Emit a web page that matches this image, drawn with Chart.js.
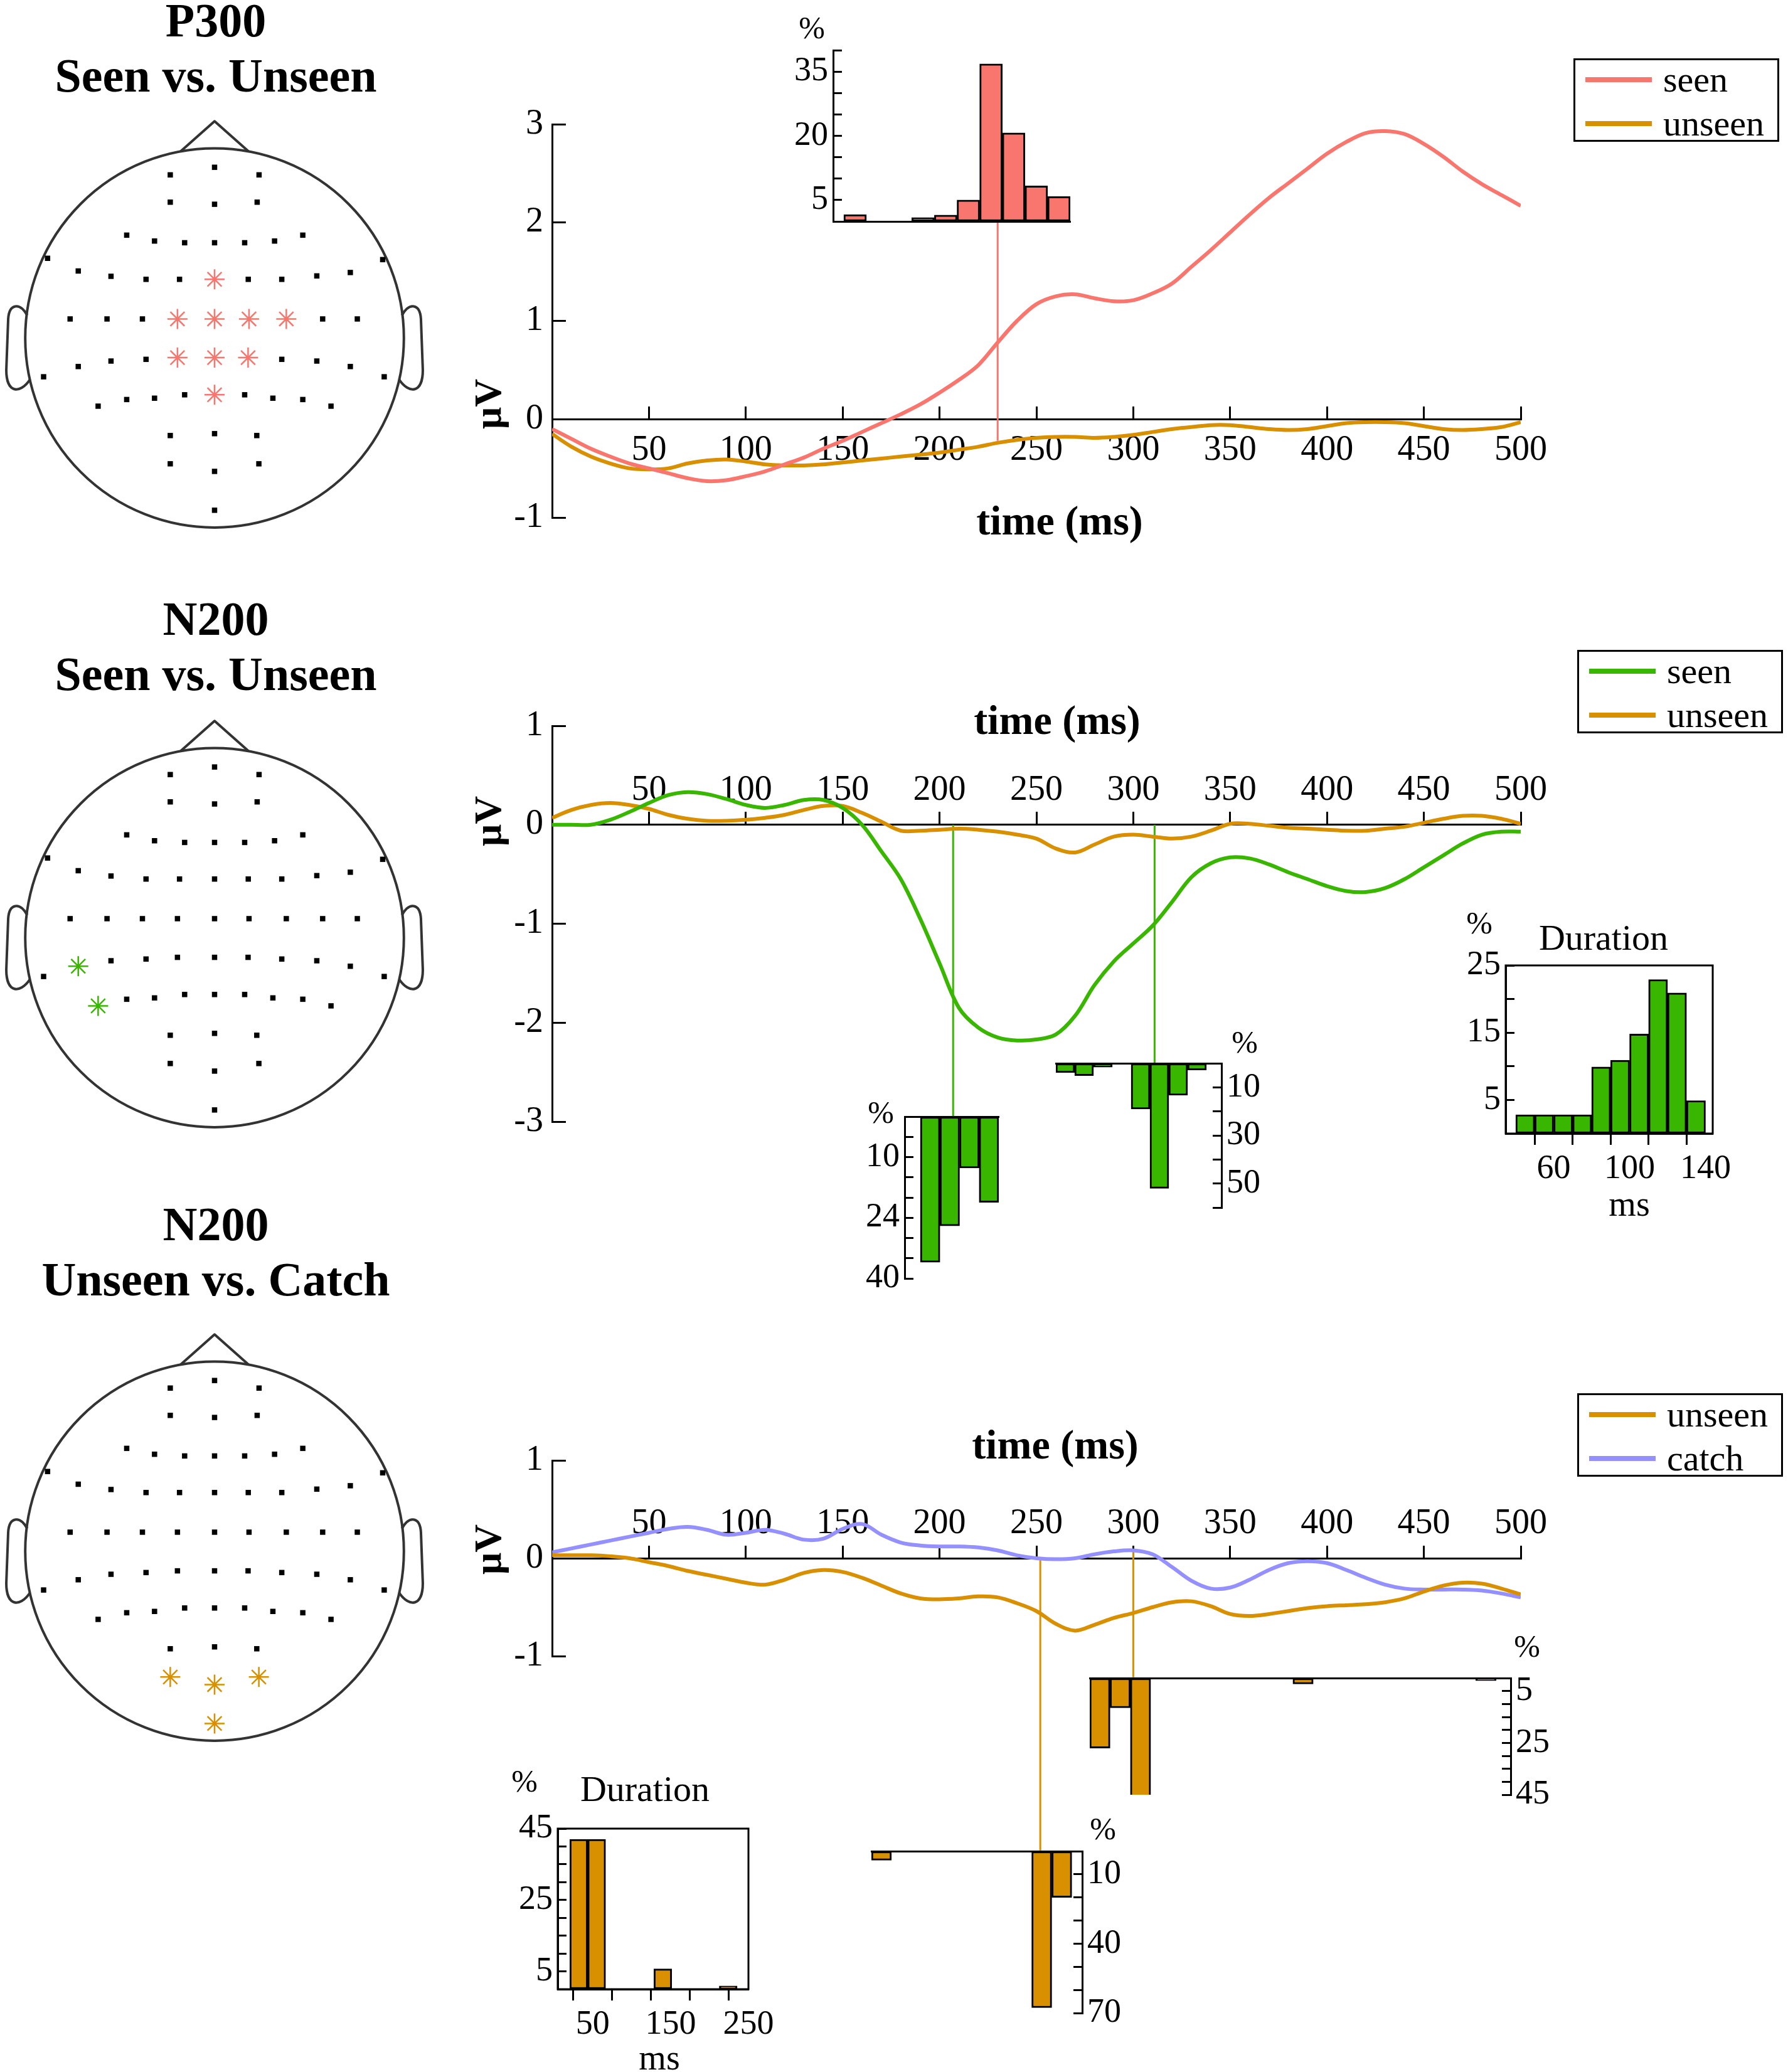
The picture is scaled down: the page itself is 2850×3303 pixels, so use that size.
<!DOCTYPE html>
<html>
<head>
<meta charset="utf-8">
<script src="https://cdn.jsdelivr.net/npm/chart.js@4.4.1/dist/chart.umd.min.js"></script>
<style>
html, body { margin: 0; padding: 0; background: #fff; }
#fig { position: relative; width: 2850px; height: 3303px; overflow: hidden; font-family: "Liberation Serif", serif; color: #000; }
.c { position: absolute; }
.t { position: absolute; transform: translate(-50%, -50%); white-space: nowrap; line-height: 1; }
.legend { position: absolute; border: 3px solid #000; box-sizing: border-box; background: #fff; }
.legend .ln { position: absolute; height: 8px; }
.legend .lt { position: absolute; transform: translateY(-50%); font-size: 58px; line-height: 1; white-space: nowrap; }
</style>
</head>
<body>
<div id="fig"></div>
<script>
// time axis of the ERP curves (ms)
const timeMs = [0,10,20,30,40,50,60,70,80,90,100,110,120,130,140,150,160,170,180,190,200,
  210,220,230,240,250,260,270,280,290,300,310,320,330,340,350,360,370,380,390,400,
  410,420,430,440,450,460,470,480,490,500];
const timeTickLabels = [50,100,150,200,250,300,350,400,450,500];

// P300 seen vs unseen (µV)
const p300Seen = [-0.1,-0.2,-0.3,-0.38,-0.45,-0.5,-0.55,-0.6,-0.63,-0.62,-0.58,-0.53,-0.46,-0.39,-0.3,-0.22,
  -0.13,-0.04,0.05,0.15,0.27,0.4,0.55,0.78,1.0,1.17,1.25,1.27,1.23,1.2,1.21,1.28,1.38,1.55,1.72,1.9,
  2.08,2.25,2.4,2.55,2.7,2.82,2.91,2.93,2.9,2.8,2.67,2.52,2.39,2.28,2.17];
const p300Unseen = [-0.15,-0.28,-0.38,-0.45,-0.5,-0.51,-0.5,-0.45,-0.42,-0.41,-0.43,-0.46,-0.47,-0.47,-0.46,-0.44,
  -0.42,-0.4,-0.38,-0.36,-0.34,-0.31,-0.28,-0.24,-0.21,-0.19,-0.18,-0.18,-0.19,-0.18,-0.16,-0.13,-0.1,-0.08,-0.06,-0.06,
  -0.08,-0.1,-0.11,-0.1,-0.07,-0.04,-0.03,-0.03,-0.04,-0.07,-0.1,-0.11,-0.1,-0.08,-0.03];

// N200 seen vs unseen (µV)
const n200Seen = [0,0,0,0.05,0.13,0.22,0.3,0.33,0.31,0.26,0.2,0.17,0.2,0.25,0.25,0.17,0,-0.27,-0.55,-0.95,-1.4,
  -1.85,-2.05,-2.15,-2.18,-2.17,-2.12,-1.93,-1.62,-1.38,-1.2,-1.02,-0.78,-0.53,-0.39,-0.33,-0.34,-0.4,-0.48,-0.55,-0.62,
  -0.67,-0.68,-0.64,-0.55,-0.43,-0.31,-0.19,-0.1,-0.07,-0.07];
const n200Unseen = [0.07,0.15,0.2,0.22,0.2,0.16,0.1,0.06,0.04,0.04,0.05,0.07,0.1,0.15,0.19,0.19,0.12,0.03,-0.06,-0.06,-0.05,
  -0.04,-0.05,-0.07,-0.1,-0.14,-0.24,-0.28,-0.2,-0.12,-0.1,-0.12,-0.14,-0.12,-0.06,0.01,0.01,-0.01,-0.03,-0.04,-0.05,
  -0.06,-0.06,-0.04,-0.02,0.02,0.06,0.09,0.09,0.06,0.01];

// N200 unseen vs catch (µV)
const catchUnseen = [0.03,0.03,0.03,0.02,0,-0.04,-0.08,-0.13,-0.17,-0.21,-0.25,-0.27,-0.22,-0.15,-0.12,-0.14,-0.2,-0.28,-0.36,-0.41,-0.42,
  -0.41,-0.39,-0.4,-0.46,-0.54,-0.67,-0.74,-0.68,-0.61,-0.56,-0.5,-0.45,-0.44,-0.49,-0.57,-0.59,-0.57,-0.54,-0.51,-0.49,
  -0.48,-0.47,-0.45,-0.41,-0.34,-0.28,-0.25,-0.26,-0.31,-0.37];
const catchCatch = [0.06,0.1,0.14,0.18,0.22,0.26,0.3,0.32,0.29,0.24,0.26,0.29,0.25,0.19,0.2,0.3,0.35,0.24,0.16,0.13,0.12,
  0.12,0.11,0.08,0.03,0,-0.01,0,0.04,0.07,0.08,0.04,-0.09,-0.23,-0.31,-0.3,-0.22,-0.12,-0.05,-0.03,-0.05,
  -0.12,-0.2,-0.27,-0.31,-0.32,-0.32,-0.32,-0.33,-0.36,-0.4];

// marked latencies (ms) linking curves to histograms
const p300Latency = 230;
const n200Latencies = [207, 311];
const catchLatencies = [252, 300];

// histograms (% of subjects per bin)
const p300PeakBins = [0,1,2,3,4,5,6,7,8,9];
const p300PeakPct = [1.6,0,0,0.9,1.5,5,36.8,20.7,8.3,5.8];
const n200OnsetBins = [0,1,2,3];
const n200OnsetPct = [36,27,12.7,21.2];
const n200OffsetBins = [0,1,2,3,4,5,6,7];
const n200OffsetPct = [3.8,5.1,1.6,0,19,52,13.3,2.8];
const n200DurMs = [45,55,65,75,85,95,105,115,125,135];
const n200DurPct = [2.8,2.8,2.8,2.8,9.9,10.9,14.8,22.9,20.9,4.9];
const catchOnsetBins = [0,1,2,3,4,5,6,7,8,9];
const catchOnsetPct = [3.9,0,0,0,0,0,0,0,67.7,20];
const catchOffsetBins = [0,1,2,3,4,5,6,7,8,9,10,11,12,13,14,15,16,17,18,19];
const catchOffsetPct = [27,11.5,48,0,0,0,0,0,0,0,2.3,0,0,0,0,0,0,0,0,1.0];
const catchDurMs = [32,55,140,224];
const catchDurPct = [42,42,5.7,0.9];

// histogram tick labels
const p300HistTicks = [5,20,35];
const n200OnsetTickVals = [10,25,40], n200OnsetTickText = ['10','24','40'];
const n200OffsetTicks = [10,30,50];
const n200DurYTicks = [5,15,25], n200DurXTicks = [60,100,140];
const catchOffsetTicks = [5,25,45];
const catchOnsetTicks = [10,40,70];
const catchDurYTicks = [5,25,45], catchDurXTicks = [50,150,250];

// scalp electrode layout (head radius = 1) and highlighted sites
const elecX = [0,-0.234,0.235, -0.234,0,0.225,
  -0.464,-0.317,-0.158,0,0.159,0.317,0.466,
  -0.882,-0.72,-0.547,-0.362,-0.185,0,0.178,0.355,0.54,0.717,0.888,
  -0.763,-0.568,-0.381,-0.196,0,0.182,0.379,0.571,0.754,
  -0.72,-0.547,-0.362,-0.196,0,0.177,0.355,0.54,0.717,
  -0.903,0.896,
  -0.615,-0.464,-0.317,-0.158,0,0.159,0.308,0.466,0.615,
  -0.234,0,0.223, -0.234,0,0.234, 0];
const elecY = [0.9,0.86,0.86, 0.716,0.705,0.716,
  0.542,0.511,0.502,0.502,0.502,0.511,0.542,
  0.42,0.353,0.325,0.309,0.309,0.309,0.309,0.309,0.327,0.345,0.413,
  0.1,0.1,0.1,0.1,0.1,0.1,0.1,0.1,0.1,
  -0.151,-0.122,-0.113,-0.104,-0.104,-0.104,-0.113,-0.122,-0.151,
  -0.205,-0.205,
  -0.36,-0.325,-0.318,-0.3,-0.3,-0.3,-0.318,-0.325,-0.36,
  -0.515,-0.505,-0.515, -0.664,-0.704,-0.664, -0.909];
const p300Sites = [18,27,28,29,30,36,37,38,48];
const n200Sites = [33,44];
const catchSites = [56,57,58,59];

const RED = '#F8766D', ORANGE = '#D89000', GREEN = '#39B600', PURPLE = '#9590FF';

Chart.defaults.font.family = '"Liberation Serif", serif';
Chart.defaults.color = '#000';

const fig = document.getElementById('fig');

function addCanvas(area, pad) {
  const cv = document.createElement('canvas');
  const w = Math.round(area.w + pad.l + pad.r), h = Math.round(area.h + pad.t + pad.b);
  cv.width = w; cv.height = h;
  cv.className = 'c';
  cv.style.left = (area.x - pad.l) + 'px';
  cv.style.top = (area.y - pad.t) + 'px';
  cv.style.width = w + 'px'; cv.style.height = h + 'px';
  fig.appendChild(cv);
  return cv;
}

// give an axis a fixed box size so the plot area lands exactly where wanted
function fitTo(size) {
  return s => {
    if (s.isHorizontal()) s.height = size; else s.width = size;
    s.paddingLeft = s.paddingRight = s.paddingTop = s.paddingBottom = 0;
  };
}

function baseOptions() {
  return {
    responsive: false, animation: false, devicePixelRatio: 1,
    plugins: {legend: {display: false}, tooltip: {enabled: false}}
  };
}

function mainChart(area, yMin, yMax, labelsAbove, series, links, padB) {
  const pad = {l: 200, t: 70, r: 90, b: padB};
  const cv = addCanvas(area, pad);
  const toVal = px => yMin + (area.y + area.h - px) / area.h * (yMax - yMin);
  const datasets = series.map(s => ({
    data: timeMs.map((t, i) => ({x: t, y: s.values[i]})),
    borderColor: s.color, borderWidth: 6, pointRadius: 0, tension: 0.35, fill: false
  }));
  links.forEach(l => datasets.push({
    data: [{x: l.t, y: l.from}, {x: l.t, y: toVal(l.toPx)}],
    borderColor: l.color, borderWidth: 3, pointRadius: 0, tension: 0, clip: false
  }));
  const opts = baseOptions();
  opts.layout = {autoPadding: false, padding: {left: 0, top: pad.t, right: pad.r, bottom: pad.b}};
  opts.scales = {
    x: {
      type: 'linear', min: 0, max: 500, position: {y: 0}, afterFit: fitTo(0),
      border: {color: '#000', width: 3},
      grid: {drawOnChartArea: false, color: '#000', tickLength: -22, tickWidth: 3},
      ticks: {stepSize: 50, includeBounds: false, autoSkip: false, maxRotation: 0, minRotation: 0,
        padding: labelsAbove ? -66 : 38, color: '#000', font: {size: 56},
        callback: v => timeTickLabels.includes(v) ? String(v) : ''}
    },
    y: {
      type: 'linear', min: yMin, max: yMax, position: 'left', afterFit: fitTo(pad.l),
      border: {color: '#000', width: 3},
      grid: {drawOnChartArea: false, color: '#000', tickLength: -22, tickWidth: 3},
      ticks: {stepSize: 1, autoSkip: false, padding: 36, color: '#000', font: {size: 56},
        callback: v => String(v)}
    }
  };
  new Chart(cv, {type: 'line', data: {datasets}, options: opts});
}

const frame = {
  id: 'frame',
  afterDraw(chart) {
    const a = chart.chartArea, c = chart.ctx;
    c.save(); c.strokeStyle = '#000'; c.lineWidth = 3;
    c.strokeRect(a.left, a.top, a.right - a.left, a.bottom - a.top);
    c.restore();
  }
};

function histChart(o) {
  const pad = {l: 120, t: 30, r: 120, b: o.xTicks ? 140 : 30};
  const cv = addCanvas(o.area, pad);
  const opts = baseOptions();
  opts.layout = {autoPadding: false, padding: {
    left: o.yPos === 'left' ? 0 : pad.l,
    right: o.yPos === 'right' ? 0 : pad.r,
    top: pad.t,
    bottom: o.xTicks ? 0 : pad.b
  }};
  opts.scales = {
    x: {
      type: 'linear', min: o.xMin, max: o.xMax, offset: false,
      position: o.reverse ? 'top' : 'bottom', afterFit: fitTo(o.xTicks ? pad.b : 0),
      border: {color: '#000', width: 3},
      grid: o.xTicks ? {drawOnChartArea: false, color: '#000', tickLength: 18, tickWidth: 3} : {display: false},
      ticks: o.xTicks
        ? {stepSize: o.xStep, includeBounds: false, autoSkip: false, maxRotation: 0, minRotation: 0,
           padding: 6, color: '#000', font: {size: 54},
           callback: v => o.xTicks.includes(v) ? String(v) : ''}
        : {display: false, stepSize: 1, includeBounds: false}
    },
    y: {
      type: 'linear', min: 0, max: o.yMax, reverse: !!o.reverse, position: o.yPos,
      afterFit: fitTo(o.yPos === 'left' ? pad.l : pad.r),
      border: {color: '#000', width: 3},
      grid: {drawOnChartArea: false, color: '#000', tickLength: -14, tickWidth: 3},
      ticks: {stepSize: o.yStep, autoSkip: false, padding: 22, color: '#000', font: {size: 54},
        callback: v => { const k = o.yTickVals.indexOf(v); return k < 0 ? '' : o.yTickText[k]; }}
    }
  };
  new Chart(cv, {
    type: 'bar',
    data: {datasets: [{
      data: o.x.map((v, i) => ({x: v, y: o.y[i]})),
      backgroundColor: o.color, borderColor: '#000', borderWidth: 3, borderSkipped: false,
      barPercentage: 1, categoryPercentage: 1
    }]},
    options: opts,
    plugins: o.frame ? [frame] : []
  });
}

const headOutline = {
  id: 'headOutline',
  beforeDatasetsDraw(chart) {
    const {ctx, scales: {x, y}} = chart;
    const px = v => x.getPixelForValue(v), py = v => y.getPixelForValue(v);
    ctx.save();
    ctx.strokeStyle = '#333'; ctx.lineWidth = 4; ctx.lineJoin = 'round';
    ctx.beginPath();
    ctx.ellipse(px(0), py(0), px(1) - px(0), py(0) - py(1), 0, 0, Math.PI * 2);
    ctx.stroke();
    ctx.beginPath();
    ctx.moveTo(px(-0.18), py(0.983)); ctx.lineTo(px(0), py(1.143)); ctx.lineTo(px(0.18), py(0.983));
    ctx.stroke();
    [-1, 1].forEach(s => {
      ctx.beginPath();
      ctx.moveTo(px(s * 0.99), py(0.12));
      ctx.bezierCurveTo(px(s * 1.03), py(0.19), px(s * 1.085), py(0.18), px(s * 1.09), py(0.1));
      ctx.lineTo(px(s * 1.1), py(-0.17));
      ctx.bezierCurveTo(px(s * 1.1), py(-0.29), px(s * 1.03), py(-0.3), px(s * 0.975), py(-0.22));
      ctx.stroke();
    });
    ctx.restore();
  }
};

function headChart(cy, sites, color) {
  const r = 302, cx = 342;
  const area = {x: cx - 1.12 * r, y: cy - 1.2 * r, w: 2.24 * r, h: 2.25 * r};
  const cv = addCanvas(area, {l: 0, t: 0, r: 0, b: 0});
  const dots = [], stars = [];
  elecX.forEach((ex, i) => (sites.includes(i) ? stars : dots).push({x: ex, y: elecY[i]}));
  const opts = baseOptions();
  opts.layout = {autoPadding: false, padding: 0};
  opts.scales = {
    x: {type: 'linear', min: -1.12, max: 1.12, display: false},
    y: {type: 'linear', min: -1.05, max: 1.2, display: false}
  };
  new Chart(cv, {
    type: 'scatter',
    data: {datasets: [
      {data: stars, pointStyle: 'star', pointRadius: 16, borderColor: color, backgroundColor: color, borderWidth: 2.5, clip: false},
      {data: dots, pointStyle: 'rect', pointRadius: 6, backgroundColor: '#000', borderColor: '#000', borderWidth: 0, clip: false}
    ]},
    options: opts,
    plugins: [headOutline]
  });
}

function txt(s, x, y, size, bold, rot) {
  const d = document.createElement('div');
  d.className = 't';
  d.textContent = s;
  d.style.left = x + 'px'; d.style.top = y + 'px';
  d.style.fontSize = size + 'px';
  if (bold) d.style.fontWeight = 'bold';
  if (rot) d.style.transform = 'translate(-50%,-50%) rotate(-90deg)';
  fig.appendChild(d);
}

function legend(x, y, items) {
  const d = document.createElement('div');
  d.className = 'legend';
  d.style.left = x + 'px'; d.style.top = y + 'px';
  d.style.width = '328px'; d.style.height = '133px';
  items.forEach((it, i) => {
    const cy = i === 0 ? 31 : 101;
    const ln = document.createElement('div');
    ln.className = 'ln';
    ln.style.left = '16px'; ln.style.width = '106px'; ln.style.top = (cy - 4) + 'px';
    ln.style.background = it.color;
    const lt = document.createElement('div');
    lt.className = 'lt';
    lt.style.left = '140px'; lt.style.top = cy + 'px';
    lt.textContent = it.label;
    d.appendChild(ln); d.appendChild(lt);
  });
  fig.appendChild(d);
}

// ---------- panel 1: P300 seen vs unseen ----------
const p1Area = {x: 880, y: 198.4, w: 1544, h: 627};
const p1Inset = {x: 1328, y: 80, w: 378, h: 272.5};
headChart(538, p300Sites, RED);
mainChart(p1Area, -1, 3, false,
  [{values: p300Seen, color: RED}, {values: p300Unseen, color: ORANGE}],
  [{t: p300Latency, from: -0.22, toPx: p1Inset.y + p1Inset.h, color: RED}], 60);
histChart({area: p1Inset, x: p300PeakBins, y: p300PeakPct, xMin: -0.97, xMax: 9.5,
  yMax: 40, yStep: 5, yPos: 'left', yTickVals: p300HistTicks, yTickText: p300HistTicks.map(String), color: RED});

// ---------- panel 2: N200 seen vs unseen ----------
const p2Area = {x: 880, y: 1156.8, w: 1544, h: 631.2};
const p2Onset = {x: 1442, y: 1779.6, w: 150, h: 257.5};
const p2Offset = {x: 1682.5, y: 1695, w: 264, h: 230};
const p2Dur = {x: 2400, y: 1539, w: 329.6, h: 268};
headChart(1494.6, n200Sites, GREEN);
mainChart(p2Area, -3, 1, true,
  [{values: n200Seen, color: GREEN}, {values: n200Unseen, color: ORANGE}],
  [{t: n200Latencies[0], from: 0, toPx: p2Onset.y, color: GREEN},
   {t: n200Latencies[1], from: 0, toPx: p2Offset.y, color: GREEN}], 60);
histChart({area: p2Onset, x: n200OnsetBins, y: n200OnsetPct, xMin: -1.3, xMax: 3.5, reverse: true,
  yMax: 40, yStep: 5, yPos: 'left', yTickVals: n200OnsetTickVals, yTickText: n200OnsetTickText, color: GREEN});
histChart({area: p2Offset, x: n200OffsetBins, y: n200OffsetPct, xMin: -0.5, xMax: 8.3, reverse: true,
  yMax: 60, yStep: 10, yPos: 'right', yTickVals: n200OffsetTicks, yTickText: n200OffsetTicks.map(String), color: GREEN});
histChart({area: p2Dur, x: n200DurMs, y: n200DurPct, xMin: 34.7, xMax: 143.8, xStep: 20, xTicks: n200DurXTicks,
  yMax: 25, yStep: 5, yPos: 'left', yTickVals: n200DurYTicks, yTickText: n200DurYTicks.map(String), color: GREEN, frame: true});

// ---------- panel 3: N200 unseen vs catch ----------
const p3Area = {x: 880, y: 2328.4, w: 1544, h: 312.4};
const p3Offset = {x: 1737.4, y: 2674.7, w: 671.3, h: 185.7};
const p3Onset = {x: 1389, y: 2951, w: 335.7, h: 257.7};
const p3Dur = {x: 889, y: 2915.3, w: 303.9, h: 255.5};
headChart(2472, catchSites, ORANGE);
mainChart(p3Area, -1, 1, true,
  [{values: catchUnseen, color: ORANGE}, {values: catchCatch, color: PURPLE}],
  [{t: catchLatencies[0], from: 0, toPx: p3Onset.y, color: ORANGE},
   {t: catchLatencies[1], from: 0.08, toPx: p3Offset.y, color: ORANGE}], 340);
histChart({area: p3Offset, x: catchOffsetBins, y: catchOffsetPct, xMin: -0.5, xMax: 20.22, reverse: true,
  yMax: 45, yStep: 5, yPos: 'right', yTickVals: catchOffsetTicks, yTickText: catchOffsetTicks.map(String), color: ORANGE});
histChart({area: p3Onset, x: catchOnsetBins, y: catchOnsetPct, xMin: -0.5, xMax: 10.02, reverse: true,
  yMax: 70, yStep: 10, yPos: 'right', yTickVals: catchOnsetTicks, yTickText: catchOnsetTicks.map(String), color: ORANGE});
histChart({area: p3Dur, x: catchDurMs, y: catchDurPct, xMin: 5, xMax: 250, xStep: 50, xTicks: catchDurXTicks,
  yMax: 45, yStep: 5, yPos: 'left', yTickVals: catchDurYTicks, yTickText: catchDurYTicks.map(String), color: ORANGE, frame: true});

// ---------- text ----------
txt('P300', 344, 32, 76, true);
txt('Seen vs. Unseen', 344, 120, 76, true);
txt('N200', 344, 986, 76, true);
txt('Seen vs. Unseen', 344, 1074, 76, true);
txt('N200', 344, 1951, 76, true);
txt('Unseen vs. Catch', 344, 2039, 76, true);

txt('μV', 777, 644, 62, true, true);
txt('μV', 777, 1309, 62, true, true);
txt('μV', 777, 2470, 62, true, true);
txt('time (ms)', 1689, 830, 66, true);
txt('time (ms)', 1685, 1148, 66, true);
txt('time (ms)', 1682, 2303, 66, true);

txt('%', 1294, 44, 50);
txt('%', 1404, 1773, 50);
txt('%', 1984, 1661, 50);
txt('%', 2358, 1471, 50);
txt('Duration', 2556, 1495, 58);
txt('ms', 2597, 1919, 56);
txt('%', 2434, 2624, 50);
txt('%', 1758, 2915, 50);
txt('%', 836, 2839, 50);
txt('Duration', 1028, 2852, 58);
txt('ms', 1051, 3280, 56);

legend(2508, 93, [{label: 'seen', color: RED}, {label: 'unseen', color: ORANGE}]);
legend(2514, 1036, [{label: 'seen', color: GREEN}, {label: 'unseen', color: ORANGE}]);
legend(2514, 2221, [{label: 'unseen', color: ORANGE}, {label: 'catch', color: PURPLE}]);
</script>
</body>
</html>
